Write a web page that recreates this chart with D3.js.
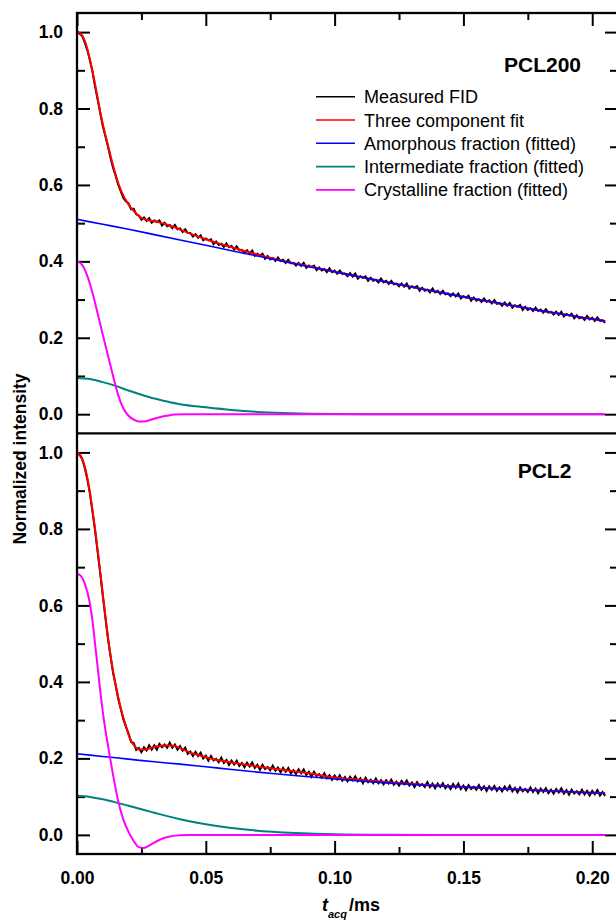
<!DOCTYPE html>
<html><head><meta charset="utf-8">
<script src="https://cdn.jsdelivr.net/npm/d3@7"></script>
<style>body{margin:0;background:#fff} svg{display:block}</style>
</head><body>
<svg id="c" width="616" height="921"></svg>
<script>
// ---------- DATA ----------
const fidStep = 0.001; // ms between measured FID samples (t = index * step)
const pcl200Measured = [1.000,0.996,0.990,0.973,0.953,0.926,0.897,0.858,0.824,0.789,
0.754,0.728,0.701,0.671,0.645,0.624,0.601,0.583,0.566,0.557,
0.552,0.536,0.538,0.523,0.520,0.509,0.515,0.506,0.513,0.501,
0.507,0.503,0.507,0.494,0.501,0.492,0.495,0.487,0.495,0.484,
0.486,0.477,0.484,0.474,0.474,0.465,0.471,0.462,0.468,0.455,
0.460,0.455,0.458,0.445,0.452,0.443,0.446,0.438,0.447,0.437,
0.440,0.431,0.439,0.429,0.430,0.422,0.429,0.420,0.428,0.415,
0.420,0.415,0.420,0.407,0.414,0.405,0.409,0.401,0.410,0.401,
0.404,0.396,0.404,0.395,0.396,0.389,0.396,0.388,0.396,0.383,
0.389,0.385,0.389,0.377,0.384,0.376,0.380,0.372,0.382,0.372,
0.376,0.368,0.376,0.367,0.368,0.361,0.369,0.360,0.368,0.355,
0.361,0.357,0.361,0.349,0.357,0.349,0.352,0.345,0.355,0.345,
0.349,0.341,0.349,0.340,0.342,0.335,0.342,0.334,0.342,0.329,
0.335,0.331,0.335,0.323,0.331,0.323,0.326,0.319,0.329,0.319,
0.323,0.315,0.323,0.314,0.316,0.309,0.316,0.308,0.316,0.303,
0.309,0.305,0.310,0.297,0.305,0.297,0.301,0.294,0.303,0.294,
0.298,0.290,0.299,0.289,0.291,0.284,0.292,0.284,0.291,0.279,
0.285,0.281,0.286,0.273,0.281,0.273,0.277,0.270,0.279,0.270,
0.274,0.266,0.275,0.266,0.268,0.261,0.268,0.260,0.268,0.256,
0.262,0.258,0.263,0.251,0.259,0.251,0.254,0.247,0.257,0.248,
0.252,0.244,0.253,0.244,0.246,0.239];
const pcl2Measured = [1.000,0.994,0.983,0.960,0.930,0.893,0.846,0.797,0.741,0.685,
0.626,0.570,0.514,0.468,0.424,0.391,0.356,0.329,0.302,0.283,
0.265,0.243,0.240,0.222,0.227,0.216,0.229,0.221,0.234,0.223,
0.234,0.223,0.238,0.229,0.236,0.228,0.241,0.228,0.236,0.223,
0.232,0.220,0.228,0.212,0.218,0.206,0.217,0.206,0.215,0.200,
0.207,0.194,0.206,0.195,0.199,0.190,0.202,0.188,0.196,0.183,
0.194,0.184,0.194,0.180,0.188,0.177,0.189,0.179,0.189,0.175,
0.183,0.170,0.183,0.172,0.177,0.169,0.181,0.168,0.176,0.164,
0.175,0.165,0.175,0.161,0.169,0.159,0.171,0.161,0.171,0.157,
0.165,0.152,0.165,0.154,0.159,0.150,0.161,0.148,0.156,0.144,
0.155,0.145,0.156,0.142,0.151,0.140,0.152,0.143,0.153,0.140,
0.148,0.135,0.149,0.138,0.144,0.135,0.147,0.135,0.143,0.132,
0.143,0.134,0.144,0.131,0.139,0.129,0.141,0.132,0.142,0.129,
0.137,0.125,0.138,0.128,0.133,0.125,0.138,0.125,0.134,0.122,
0.134,0.125,0.135,0.122,0.130,0.120,0.133,0.123,0.134,0.120,
0.129,0.117,0.130,0.120,0.126,0.118,0.130,0.118,0.127,0.115,
0.127,0.118,0.128,0.115,0.124,0.114,0.126,0.117,0.128,0.114,
0.123,0.111,0.124,0.114,0.120,0.112,0.124,0.112,0.121,0.109,
0.121,0.112,0.122,0.109,0.118,0.108,0.120,0.111,0.122,0.108,
0.117,0.105,0.118,0.108,0.114,0.106,0.118,0.106,0.115,0.103,
0.115,0.106,0.117,0.103,0.112,0.102];

// three component fit
const pcl200FitT = [0,0.001,0.002,0.003,0.004,0.005,0.006,0.007,0.008,0.009,0.010,0.011,0.012,0.013,0.014,0.015,0.016,0.017,0.018,0.019,0.020,0.021,0.022,0.023,0.024,0.025,0.026,0.027,0.028,0.029,0.030,0.032,0.034,0.036,0.038,0.040,0.045,0.050,0.055,0.060,0.065,0.070,0.080,0.090,0.100,0.110,0.120,0.130,0.140,0.150,0.160,0.170,0.180,0.190,0.200,0.205];
const pcl200FitV = [1.000,0.998,0.991,0.978,0.956,0.929,0.898,0.864,0.828,0.792,0.760,0.731,0.704,0.677,0.651,0.627,0.605,0.587,0.572,0.560,0.549,0.540,0.532,0.525,0.519,0.514,0.511,0.509,0.507,0.506,0.505,0.502,0.498,0.494,0.489,0.483,0.470,0.458,0.447,0.437,0.427,0.418,0.401,0.387,0.373,0.359,0.346,0.333,0.320,0.307,0.295,0.283,0.271,0.260,0.249,0.244];
const pcl2FitT = [0,0.001,0.002,0.003,0.004,0.005,0.006,0.007,0.008,0.009,0.010,0.011,0.012,0.013,0.014,0.015,0.016,0.017,0.018,0.019,0.020,0.021,0.022,0.023,0.024,0.025,0.026,0.027,0.028,0.029,0.030,0.032,0.034,0.036,0.038,0.040,0.042,0.044,0.046,0.048,0.050,0.055,0.060,0.065,0.070,0.080,0.090,0.100,0.110,0.120,0.130,0.140,0.150,0.160,0.170,0.180,0.190,0.200,0.205];
const pcl2FitV = [1.000,0.996,0.984,0.963,0.934,0.896,0.850,0.800,0.745,0.688,0.630,0.573,0.518,0.470,0.428,0.393,0.360,0.331,0.306,0.284,0.262,0.246,0.235,0.228,0.224,0.223,0.223,0.224,0.226,0.228,0.230,0.232,0.234,0.234,0.232,0.227,0.221,0.215,0.211,0.207,0.203,0.195,0.189,0.184,0.179,0.170,0.161,0.150,0.144,0.138,0.133,0.129,0.125,0.122,0.119,0.116,0.113,0.110,0.109];

// amorphous fraction
const amorphT = [0,0.010,0.020,0.030,0.040,0.050,0.060,0.070,0.080,0.090,0.100,0.110,0.120,0.130,0.140,0.150,0.160,0.170,0.180,0.190,0.200,0.205];
const pcl200AmorphV = [0.510,0.497,0.484,0.470,0.456,0.442,0.428,0.414,0.400,0.386,0.373,0.359,0.346,0.333,0.320,0.307,0.295,0.283,0.271,0.260,0.249,0.244];
const pcl2AmorphV = [0.212,0.205,0.198,0.191,0.185,0.178,0.171,0.164,0.158,0.152,0.146,0.141,0.136,0.132,0.128,0.125,0.122,0.119,0.116,0.113,0.110,0.109];

// intermediate fraction
const interT = [0,0.005,0.010,0.015,0.020,0.025,0.030,0.035,0.040,0.050,0.060,0.070,0.080,0.090,0.100,0.120,0.140,0.205];
const pcl200InterV = [0.095,0.092,0.084,0.074,0.062,0.051,0.041,0.033,0.026,0.018,0.011,0.006,0.003,0.0012,0.0004,0,0,0];
const pcl2InterV = [0.102,0.099,0.093,0.085,0.076,0.067,0.058,0.049,0.041,0.028,0.018,0.011,0.0065,0.0035,0.0018,0.0004,0,0];

// crystalline fraction
const pcl200CrystT = [0,0.002,0.004,0.006,0.008,0.010,0.012,0.014,0.016,0.018,0.020,0.022,0.024,0.026,0.028,0.030,0.032,0.035,0.038,0.042,0.060,0.205];
const pcl200CrystV = [0.400,0.391,0.362,0.318,0.264,0.208,0.154,0.100,0.050,0.015,-0.004,-0.014,-0.019,-0.019,-0.016,-0.012,-0.008,-0.004,-0.001,0,0,0];
const pcl2CrystT = [0,0.001,0.002,0.003,0.004,0.005,0.006,0.007,0.008,0.009,0.010,0.011,0.012,0.013,0.014,0.016,0.018,0.020,0.022,0.024,0.026,0.028,0.030,0.033,0.036,0.040,0.044,0.060,0.205];
const pcl2CrystV = [0.682,0.680,0.672,0.657,0.636,0.605,0.560,0.500,0.440,0.378,0.322,0.275,0.235,0.195,0.157,0.088,0.040,0.008,-0.016,-0.032,-0.034,-0.028,-0.020,-0.010,-0.004,-0.001,0,0,0];

const xMajorTicks = [0, 0.05, 0.10, 0.15, 0.20];
const xMajorLabels = ["0.00", "0.05", "0.10", "0.15", "0.20"];
const xMinorTicks = [0.025, 0.075, 0.125, 0.175];
const yMajorTicks = [0, 0.2, 0.4, 0.6, 0.8, 1.0];
const yMajorLabels = ["0.0", "0.2", "0.4", "0.6", "0.8", "1.0"];
const yMinorTicks = [0.1, 0.3, 0.5, 0.7, 0.9];
const legendLabels = ["Measured FID", "Three component fit", "Amorphous fraction (fitted)", "Intermediate fraction (fitted)", "Crystalline fraction (fitted)"];
const panelNames = ["PCL200", "PCL2"];

// ---------- STYLE / LAYOUT ----------
const COLORS = {fid: "#000000", fit: "#ff0000", amorph: "#0000ff", inter: "#008080", cryst: "#ff00ff"};
const legendColors = [COLORS.fid, COLORS.fit, COLORS.amorph, COLORS.inter, COLORS.cryst];
const FONT = "'Liberation Sans', Arial, Helvetica, sans-serif";
const L = 77, R = 618;
const svg = d3.select("#c");

const x = d3.scaleLinear().domain([0, 0.21]).range([L, R]);
const panels = [
  {name: panelNames[0], top: 13, bottom: 433.3, fid: pcl200Measured, fitT: pcl200FitT, fitV: pcl200FitV,
   amV: pcl200AmorphV, inV: pcl200InterV, crT: pcl200CrystT, crV: pcl200CrystV, labelX: 504, labelY: 71.7},
  {name: panelNames[1], top: 433.3, bottom: 854, fid: pcl2Measured, fitT: pcl2FitT, fitV: pcl2FitV,
   amV: pcl2AmorphV, inV: pcl2InterV, crT: pcl2CrystT, crV: pcl2CrystV, labelX: 517.7, labelY: 478.3}
];

function styleAxis(g) {
  g.select(".domain").remove();
  g.selectAll(".tick line").attr("stroke", "#000").attr("stroke-width", 2);
  g.selectAll("text").attr("font-family", FONT).attr("font-size", 17.5).attr("font-weight", "bold").attr("fill", "#000");
}

panels.forEach((p, pi) => {
  const y = d3.scaleLinear().domain([-0.05, 1.05]).range([p.bottom, p.top]);
  const line = d3.line().x(d => x(d[0])).y(d => y(d[1]));
  const smooth = d3.line().x(d => x(d[0])).y(d => y(d[1])).curve(d3.curveMonotoneX);

  const g = svg.append("g");
  g.append("g").attr("transform", `translate(${L},0)`)
    .call(d3.axisLeft(y).tickValues(yMajorTicks).tickSize(-13).tickPadding(14).tickFormat((d, i) => yMajorLabels[i]))
    .call(styleAxis);
  g.append("g").attr("transform", `translate(${L},0)`)
    .call(d3.axisLeft(y).tickValues(yMinorTicks).tickSize(-8).tickFormat(""))
    .call(styleAxis);
  g.append("g").attr("transform", `translate(${R},0)`)
    .call(d3.axisRight(y).tickValues(yMajorTicks).tickSize(-13).tickFormat(""))
    .call(styleAxis);
  g.append("g").attr("transform", `translate(${R},0)`)
    .call(d3.axisRight(y).tickValues(yMinorTicks).tickSize(-8).tickFormat(""))
    .call(styleAxis);
  if (pi === 0) {
    g.append("g").attr("transform", `translate(0,${p.top})`)
      .call(d3.axisTop(x).tickValues(xMajorTicks).tickSize(-13).tickFormat(""))
      .call(styleAxis);
    g.append("g").attr("transform", `translate(0,${p.top})`)
      .call(d3.axisTop(x).tickValues(xMinorTicks).tickSize(-7).tickFormat(""))
      .call(styleAxis);
  } else {
    g.append("g").attr("transform", `translate(0,${p.bottom})`)
      .call(d3.axisBottom(x).tickValues(xMajorTicks).tickSize(-13).tickPadding(18).tickFormat((d, i) => xMajorLabels[i]))
      .call(styleAxis);
    g.append("g").attr("transform", `translate(0,${p.bottom})`)
      .call(d3.axisBottom(x).tickValues(xMinorTicks).tickSize(-7).tickFormat(""))
      .call(styleAxis);
  }

  const fidPts = p.fid.map((v, i) => [i * fidStep, v]);
  g.append("path").attr("d", line(fidPts)).attr("fill", "none").attr("stroke", COLORS.fid).attr("stroke-width", 2);
  g.append("path").attr("d", smooth(p.fitT.map((t, i) => [t, p.fitV[i]]))).attr("fill", "none").attr("stroke", COLORS.fit).attr("stroke-width", 2);
  g.append("path").attr("d", smooth(amorphT.map((t, i) => [t, p.amV[i]]))).attr("fill", "none").attr("stroke", COLORS.amorph).attr("stroke-width", 1.6);
  g.append("path").attr("d", smooth(interT.map((t, i) => [t, p.inV[i]]))).attr("fill", "none").attr("stroke", COLORS.inter).attr("stroke-width", 2);
  g.append("path").attr("d", smooth(p.crT.map((t, i) => [t, p.crV[i]]))).attr("fill", "none").attr("stroke", COLORS.cryst).attr("stroke-width", 2);

  g.append("text").attr("x", p.labelX).attr("y", p.labelY).text(p.name)
    .attr("font-family", FONT).attr("font-size", 21).attr("font-weight", "bold");
});

const frame = svg.append("g").attr("fill", "none").attr("stroke", "#000").attr("stroke-width", 2.3);
frame.append("rect").attr("x", L).attr("y", panels[0].top).attr("width", R - L).attr("height", panels[1].bottom - panels[0].top);
frame.append("line").attr("x1", L).attr("x2", R).attr("y1", panels[0].bottom).attr("y2", panels[0].bottom);

const lg = svg.append("g");
legendLabels.forEach((lab, i) => {
  const cy = 96.7 + i * 23.3;
  lg.append("line").attr("x1", 316).attr("x2", 355).attr("y1", cy).attr("y2", cy).attr("stroke", legendColors[i]).attr("stroke-width", 1.6);
  lg.append("text").attr("x", 364).attr("y", cy + 6.5).text(lab)
    .attr("font-family", FONT).attr("font-size", 18).attr("fill", "#000");
});

svg.append("text").attr("transform", "translate(26,459) rotate(-90)").attr("text-anchor", "middle")
  .attr("font-family", FONT).attr("font-size", 17.5).attr("font-weight", "bold").text("Normalized intensity");
const xt = svg.append("text").attr("x", 322).attr("y", 911)
  .attr("font-family", FONT).attr("font-size", 18).attr("font-weight", "bold");
xt.append("tspan").attr("font-style", "italic").text("t");
xt.append("tspan").attr("font-style", "italic").attr("font-size", 11).attr("dy", 7).text("acq");
xt.append("tspan").attr("dy", -7).attr("dx", 2).text("/ms");
</script>
</body></html>
